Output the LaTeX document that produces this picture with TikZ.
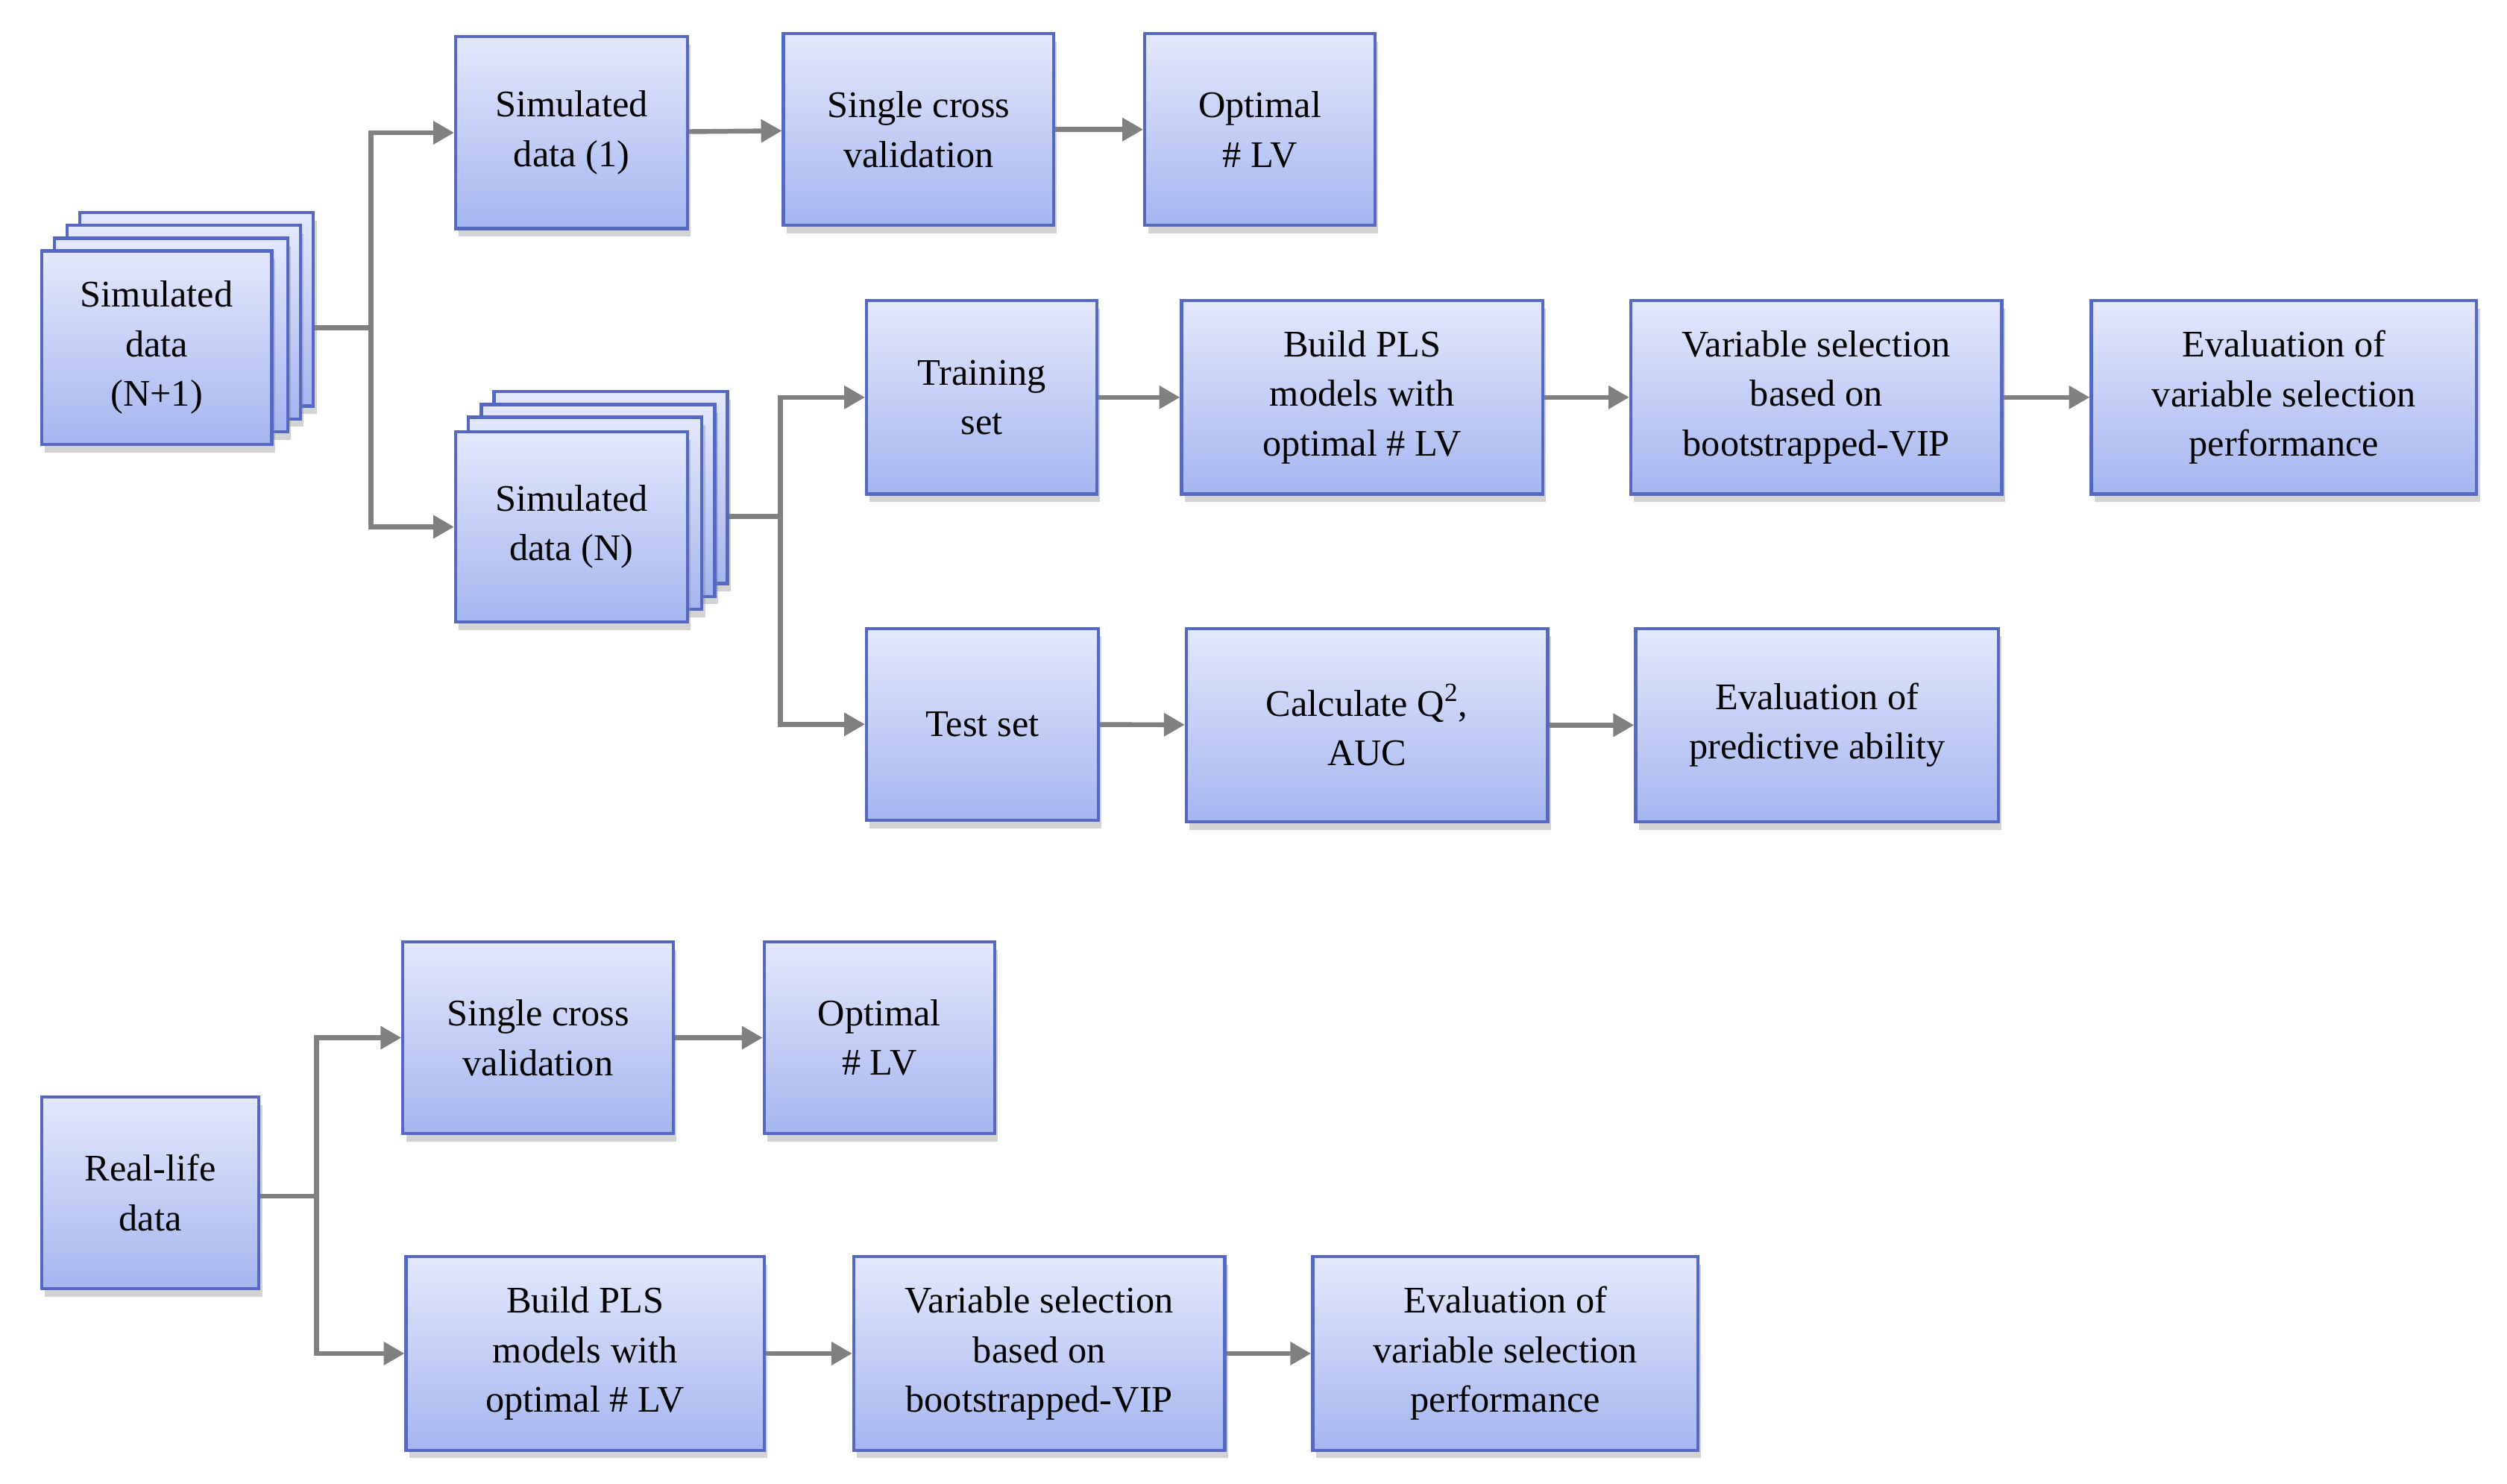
\documentclass[tikz,border=0pt]{standalone}
\usepackage{fontspec}
\setmainfont{Liberation Serif}
\usetikzlibrary{shadows,arrows.meta}
\definecolor{bord}{RGB}{85,105,195}
\definecolor{topc}{RGB}{228,232,252}
\definecolor{botc}{RGB}{165,182,240}
\definecolor{linec}{RGB}{128,128,128}
\tikzset{
 box/.style={draw=bord,line width=2pt,top color=topc,bottom color=botc,
   drop shadow={shadow xshift=2pt,shadow yshift=-5pt,opacity=0.35},
   align=center,inner sep=0pt,font=\fontsize{23.5}{31}\selectfont},
 conn/.style={draw=linec,line width=3pt},
 arr/.style={conn,-{Triangle[length=13pt,width=14pt]}}
}
\newcommand\bx[6]{\node[box,minimum width={#4pt-#2pt},minimum height={#5pt-#3pt}] (#1) at ({(#2+#4)/2},{(#3+#5)/2}) {#6};}
\begin{document}
\begin{tikzpicture}[x=1pt,y=-1pt]
\useasboundingbox (0,0) rectangle (1568,928);
% stack N+1
\bx{sa3}{50}{133}{196}{254}{}
\bx{sa2}{42}{141}{188}{262}{}
\bx{sa1}{34}{149}{180}{270}{}
\bx{sa}{26}{157}{170}{278}{Simulated\\data\\(N+1)}
\bx{s1}{285}{23}{430}{143}{Simulated\\data (1)}
\bx{scv}{490}{21}{659}{141}{Single cross\\validation}
\bx{olv}{716}{21}{860}{141}{Optimal\\\# LV}
% stack N
\bx{sn3}{309}{245}{455}{365}{}
\bx{sn2}{301}{253}{447}{373}{}
\bx{sn1}{293}{261}{439}{381}{}
\bx{sn}{285}{270}{430}{389}{Simulated\\data (N)}
\bx{tr}{542}{188}{686}{309}{Training\\set}
\bx{bp}{739}{188}{965}{309}{Build PLS\\models with\\optimal \# LV}
\bx{vs}{1020}{188}{1252}{309}{Variable selection\\based on\\bootstrapped-VIP}
\bx{ev}{1308}{188}{1549}{309}{Evaluation of\\variable selection\\performance}
\bx{ts}{542}{393}{687}{513}{Test set}
\bx{cq}{742}{393}{968}{514}{Calculate Q\textsuperscript{2},\\AUC}
\bx{ep}{1023}{393}{1250}{514}{Evaluation of\\predictive ability}
% real life
\bx{rl}{26}{686}{162}{806}{Real-life\\data}
\bx{scv2}{252}{589}{421}{709}{Single cross\\validation}
\bx{olv2}{478}{589}{622}{709}{Optimal\\\# LV}
\bx{bp2}{254}{786}{478}{907}{Build PLS\\models with\\optimal \# LV}
\bx{vs2}{534}{786}{766}{907}{Variable selection\\based on\\bootstrapped-VIP}
\bx{ev2}{821}{786}{1062}{907}{Evaluation of\\variable selection\\performance}
% connectors
\coordinate (j1) at (232,205);
\draw[conn] (sa3.east |- j1) -- (j1);
\draw[arr] (j1) |- (s1.west);
\draw[arr] (j1) |- (sn.west);
\draw[arr] (s1) -- (scv);
\draw[arr] (scv) -- (olv);
\coordinate (j2) at (488,323);
\draw[conn] (sn3.east |- j2) -- (j2);
\draw[arr] (j2) |- (tr.west);
\draw[arr] (j2) |- (ts.west);
\draw[arr] (tr) -- (bp);
\draw[arr] (bp) -- (vs);
\draw[arr] (vs) -- (ev);
\draw[arr] (ts) -- (cq);
\draw[arr] (cq) -- (ep);
\coordinate (j3) at (198,748);
\draw[conn] (rl.east |- j3) -- (j3);
\draw[arr] (j3) |- (scv2.west);
\draw[arr] (j3) |- (bp2.west);
\draw[arr] (scv2) -- (olv2);
\draw[arr] (bp2) -- (vs2);
\draw[arr] (vs2) -- (ev2);
\end{tikzpicture}
\end{document}
